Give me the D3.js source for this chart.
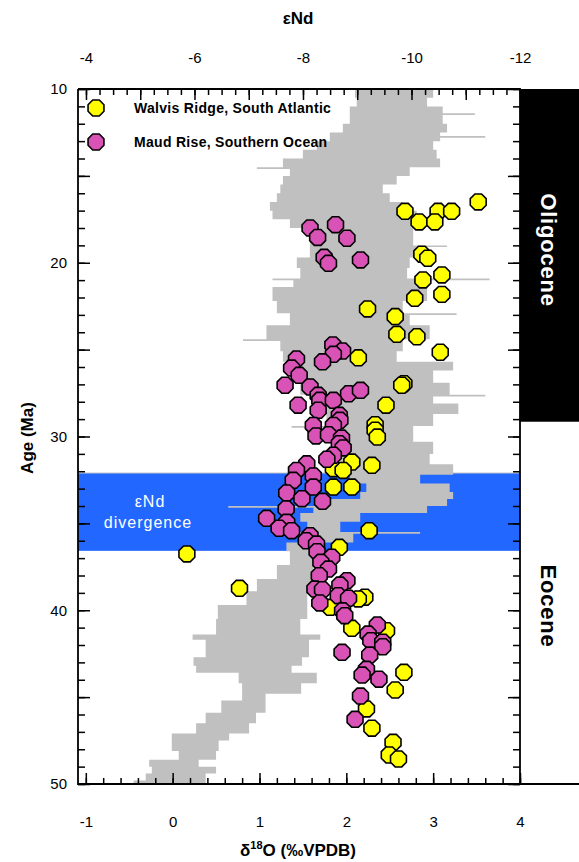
<!DOCTYPE html>
<html>
<head>
<meta charset="utf-8">
<script src="https://cdn.jsdelivr.net/npm/d3@7"></script>
<style>
  body { margin: 0; background: #fff; }
  text { font-family: "Liberation Sans", Arial, sans-serif; }
</style>
</head>
<body>
<script>
// Walvis Ridge (South Atlantic) - age (Ma) and eNd
var walvisAge = [16.50, 17.04, 17.04, 17.04, 17.65, 17.65, 19.51, 19.74, 20.70, 20.99, 22.05, 21.82,
  22.66, 23.10, 24.12, 24.26, 25.15, 25.47, 26.96, 27.05, 28.20, 29.32, 29.64, 30.03, 31.47, 31.66,
  31.85, 31.95, 32.91, 32.91, 35.42, 36.38, 36.76, 38.74, 39.25, 39.35, 39.83, 41.04, 41.18, 43.57,
  44.59, 45.68, 46.79, 47.60, 48.33, 48.56];
var walvisNd = [-11.23, -9.88, -10.49, -10.74, -10.14, -10.43, -10.19, -10.30, -10.56, -10.21, -10.06, -10.56,
  -9.19, -9.70, -9.73, -10.10, -10.53, -9.02, -9.86, -9.82, -9.53, -9.33, -9.33, -9.37, -8.90, -9.27,
  -8.56, -8.74, -8.56, -8.90, -9.22, -8.67, -5.86, -6.83, -9.14, -9.02, -8.50, -8.90, -9.54, -9.86,
  -9.70, -9.17, -9.27, -9.66, -9.59, -9.76];

// Maud Rise (Southern Ocean)
var maudAge = [18.00, 17.81, 18.54, 18.59, 19.69, 20.03, 19.84, 24.73, 25.08, 25.27, 25.54, 25.70,
  26.06, 26.48, 27.05, 27.15, 27.54, 27.34, 27.63, 27.92, 27.92, 28.20, 28.49, 28.78, 29.07, 29.36,
  29.36, 29.97, 29.90, 30.09, 30.41, 30.66, 31.08, 31.31, 31.57, 31.95, 32.27, 32.52, 32.91, 33.25,
  33.58, 33.73, 34.17, 34.71, 34.94, 35.28, 35.42, 35.71, 36.00, 36.19, 36.63, 36.95, 37.24, 37.63,
  38.01, 38.30, 38.55, 38.78, 38.82, 39.16, 39.31, 39.58, 40.03, 40.31, 40.85, 41.37, 41.75, 41.84,
  42.10, 42.42, 42.58, 43.40, 43.73, 43.97, 44.94, 46.28];
var maudNd = [-8.13, -8.60, -8.27, -8.81, -8.39, -8.47, -9.06, -8.55, -8.73, -8.56, -7.88, -8.36,
  -7.79, -7.93, -7.67, -8.13, -8.84, -9.06, -8.28, -8.31, -8.56, -7.91, -8.28, -8.67, -8.68, -8.56,
  -8.19, -8.24, -8.47, -8.71, -8.67, -8.74, -8.56, -8.44, -8.07, -7.88, -8.19, -7.82, -8.19, -7.70,
  -7.98, -8.36, -7.69, -7.33, -7.70, -7.56, -7.79, -8.13, -8.06, -8.25, -8.26, -8.53, -8.33, -8.47,
  -8.30, -8.81, -8.68, -8.22, -8.36, -8.65, -8.84, -8.31, -8.73, -8.77, -9.37, -9.20, -9.25, -9.47,
  -9.47, -8.72, -9.23, -9.17, -9.09, -9.40, -9.06, -8.96];

// benthic d18O record, read as the left / right edge of the grey trace
var o18Age = [10.0, 10.5, 11.0, 11.4, 11.5, 12.0, 12.5, 12.7, 12.8, 13.0, 13.5, 14.0, 14.5, 14.6, 15.0,
  15.5, 16.0, 16.5, 17.0, 17.5, 18.0, 18.5, 19.0, 19.1, 19.7, 20.3, 20.9, 21.0, 21.4, 22.2, 22.9, 23.0,
  23.6, 24.4, 24.5, 25.1, 25.7, 26.2, 26.9, 27.6, 27.7, 28.1, 28.7, 29.4, 29.5, 30.3, 31.0, 31.6, 32.2,
  32.7, 33.2, 33.6, 34.0, 34.1, 34.4, 34.9, 35.5, 35.6, 36.1, 36.6, 37.4, 38.2, 38.9, 39.7, 40.5, 41.4,
  41.7, 42.7, 43.2, 43.6, 44.2, 44.8, 45.2, 45.9, 46.5, 47.1, 47.5, 48.1, 48.6, 49.0, 49.4, 49.8, 50.0];
var o18Lo = [2.10, 2.12, 2.04, 2.04, 2.04, 1.96, 1.81, 1.81, 1.81, 1.66, 1.50, 1.27, 0.97, 1.35, 1.27,
  1.24, 1.20, 1.12, 1.15, 1.35, 1.58, 1.58, 1.58, 1.58, 1.43, 1.47, 1.15, 1.39, 1.15, 1.20, 1.35, 1.35,
  1.08, 0.81, 1.24, 1.27, 1.35, 1.47, 1.47, 1.73, 1.73, 1.77, 1.77, 1.37, 1.81, 1.96, 1.93, 1.93, 2.04,
  2.23, 2.16, 1.66, 0.64, 1.62, 1.47, 1.55, 1.20, 1.50, 1.31, 1.35, 1.20, 0.97, 0.85, 0.52, 0.50, 0.23,
  0.38, 0.24, 0.27, 0.76, 0.80, 0.80, 0.56, 0.38, 0.27, -0.01, -0.01, 0.07, -0.27, -0.24, -0.31, -0.45, -0.60];
var o18Hi = [3.00, 2.93, 3.11, 3.48, 3.11, 3.16, 3.08, 3.60, 3.08, 3.00, 3.04, 3.08, 2.73, 2.73, 2.58,
  2.42, 2.50, 2.65, 2.81, 2.77, 2.77, 2.77, 3.16, 2.81, 2.73, 2.70, 3.65, 2.81, 2.93, 2.65, 3.27, 2.73,
  2.96, 2.65, 2.65, 2.58, 3.23, 3.00, 3.19, 3.60, 3.00, 3.29, 3.00, 2.77, 2.77, 3.00, 2.96, 3.23, 2.85,
  3.19, 3.23, 3.16, 2.93, 2.93, 2.16, 1.93, 2.85, 2.08, 1.62, 1.62, 1.62, 1.62, 1.55, 1.55, 1.47, 1.70,
  1.57, 1.49, 1.37, 1.66, 1.48, 1.07, 1.07, 0.96, 0.88, 0.65, 0.53, 0.50, 0.30, 0.50, 0.38, 0.38, 0.54];

var divergence = [32.1, 36.58];        // eNd divergence interval (Ma)
var oligoceneEnd = 29.15;               // boundary drawn in the epoch column
var o18Ticks = [-1, 0, 1, 2, 3, 4];
var ndTicks = [-4, -6, -8, -10, -12];
var ageTicks = [10, 20, 30, 40, 50];

var width = 579, height = 862;
var pLeft = 78, pRight = 520, pTop = 89, pBottom = 784;

var svg = d3.select('body').append('svg')
  .attr('width', width)
  .attr('height', height);

var x = d3.scaleLinear().domain([-1.09, 4]).range([pLeft, pRight]);
var xNd = d3.scaleLinear().domain([-3.853, -12]).range([pLeft, pRight]);
var y = d3.scaleLinear().domain([10, 50]).range([pTop, pBottom]);

// blue band
svg.append('rect')
  .attr('x', pLeft).attr('y', y(divergence[0]))
  .attr('width', pRight - pLeft).attr('height', y(divergence[1]) - y(divergence[0]))
  .attr('fill', '#2267ff');
svg.append('line')
  .attr('x1', pLeft).attr('x2', pRight)
  .attr('y1', y(divergence[0])).attr('y2', y(divergence[0]))
  .attr('stroke', '#c8c8c8').attr('stroke-width', 1);

// grey d18O trace
var o18 = o18Age.map(function(a, i) { return [a, o18Lo[i], o18Hi[i]]; });
var area = d3.area()
  .y(function(d) { return y(d[0]); })
  .x0(function(d) { return x(d[1]); })
  .x1(function(d) { return x(d[2]); })
  .curve(d3.curveStepBefore);
svg.append('path')
  .datum(o18)
  .attr('d', area)
  .attr('fill', '#c0c0c0');

svg.append('text')
  .attr('x', 150).attr('y', 507)
  .attr('text-anchor', 'middle')
  .attr('fill', '#fff')
  .style('font-size', '16px').style('letter-spacing', '1px')
  .text('εNd');
svg.append('text')
  .attr('x', 148).attr('y', 528)
  .attr('text-anchor', 'middle')
  .attr('fill', '#fff')
  .style('font-size', '16px').style('letter-spacing', '1px')
  .text('divergence');

// epoch column
svg.append('rect')
  .attr('x', pRight).attr('y', pTop)
  .attr('width', width - pRight).attr('height', y(oligoceneEnd) - pTop)
  .attr('fill', '#000');
svg.append('text')
  .attr('transform', 'translate(541,250) rotate(90)')
  .attr('text-anchor', 'middle')
  .attr('fill', '#fff')
  .style('font-size', '22px').style('font-weight', 'bold').style('letter-spacing', '0.8px')
  .text('Oligocene');
svg.append('text')
  .attr('transform', 'translate(541,606) rotate(90)')
  .attr('text-anchor', 'middle')
  .attr('fill', '#000')
  .style('font-size', '22px').style('font-weight', 'bold').style('letter-spacing', '0.8px')
  .text('Eocene');

// octagon marker
function octagon(r) {
  var pts = d3.range(8).map(function(k) {
    var t = Math.PI / 8 + k * Math.PI / 4;
    return [r * Math.cos(t), r * Math.sin(t)];
  });
  return 'M' + pts.join('L') + 'Z';
}

function drawSeries(ages, nds, color) {
  svg.append('g').selectAll('path')
    .data(ages.map(function(a, i) { return [a, nds[i]]; }))
    .enter().append('path')
    .attr('d', octagon(8.6))
    .attr('transform', function(d) { return 'translate(' + xNd(d[1]) + ',' + y(d[0]) + ')'; })
    .attr('fill', color)
    .attr('stroke', '#000')
    .attr('stroke-width', 1.6);
}
drawSeries(walvisAge, walvisNd, '#ffff00');
drawSeries(maudAge, maudNd, '#d952b5');

// axes
function styleAxis(g) {
  g.select('.domain').remove();
  g.selectAll('line').attr('stroke', '#000').attr('stroke-width', 1.5);
  g.selectAll('text').style('font-size', '15px').attr('fill', '#000')
    .style('font-family', '"Liberation Sans", Arial, sans-serif');
}

svg.append('g').attr('transform', 'translate(' + pLeft + ',0)')
  .call(d3.axisLeft(y).tickValues(d3.range(10, 51, 1)).tickSize(-7).tickFormat(''))
  .call(styleAxis);
svg.append('g').attr('transform', 'translate(' + pLeft + ',0)')
  .call(d3.axisLeft(y).tickValues(d3.range(10, 51, 5)).tickSize(-12).tickPadding(11)
    .tickFormat(function(d) { return ageTicks.indexOf(d) >= 0 ? d : ''; }))
  .call(styleAxis);
svg.append('g').attr('transform', 'translate(' + pRight + ',0)')
  .call(d3.axisRight(y).tickValues(d3.range(10, 51, 1)).tickSize(-7).tickFormat(''))
  .call(styleAxis);
svg.append('g').attr('transform', 'translate(' + pRight + ',0)')
  .call(d3.axisRight(y).tickValues(d3.range(10, 51, 5)).tickSize(-12).tickFormat(''))
  .call(styleAxis);

svg.append('g').attr('transform', 'translate(0,' + pBottom + ')')
  .call(d3.axisBottom(x).tickValues(d3.range(-1, 4.01, 0.2)).tickSize(-6).tickFormat(''))
  .call(styleAxis);
svg.append('g').attr('transform', 'translate(0,' + pBottom + ')')
  .call(d3.axisBottom(x).tickValues(o18Ticks).tickSize(-11).tickPadding(32)
    .tickFormat(function(d) { return d; }))
  .call(styleAxis);

svg.append('g').attr('transform', 'translate(0,' + pTop + ')')
  .call(d3.axisTop(xNd).tickValues(d3.range(-4, -12.01, -0.25)).tickSize(-6).tickFormat(''))
  .call(styleAxis);
svg.append('g').attr('transform', 'translate(0,' + pTop + ')')
  .call(d3.axisTop(xNd).tickValues(d3.range(-4, -12.01, -1)).tickSize(-11).tickPadding(26)
    .tickFormat(function(d) { return ndTicks.indexOf(d) >= 0 ? d : ''; }))
  .call(styleAxis);

// frame
svg.append('path')
  .attr('d', 'M' + pLeft + ',' + pTop + 'V' + pBottom + 'H' + width + 'M' + pLeft + ',' + pTop + 'H' + pRight + 'V' + pBottom)
  .attr('fill', 'none').attr('stroke', '#000').attr('stroke-width', 1.8);

// legend
var legend = [['Walvis Ridge, South Atlantic', '#ffff00', 108], ['Maud Rise, Southern Ocean', '#d952b5', 142]];
legend.forEach(function(l) {
  svg.append('path').attr('d', octagon(8.6))
    .attr('transform', 'translate(96,' + l[2] + ')')
    .attr('fill', l[1]).attr('stroke', '#000').attr('stroke-width', 1.6);
  svg.append('text').attr('x', 134).attr('y', l[2] + 5)
    .style('font-size', '14px').style('font-weight', 'bold').style('letter-spacing', '0.3px')
    .text(l[0]);
});

// titles
svg.append('text').attr('x', 298).attr('y', 24).attr('text-anchor', 'middle')
  .style('font-size', '17px').style('font-weight', 'bold').text('εNd');
svg.append('text').attr('transform', 'translate(33,438) rotate(-90)').attr('text-anchor', 'middle')
  .style('font-size', '17px').style('font-weight', 'bold').text('Age (Ma)');
var xt = svg.append('text').attr('x', 298).attr('y', 856).attr('text-anchor', 'middle')
  .style('font-size', '17px').style('font-weight', 'bold');
xt.append('tspan').text('δ');
xt.append('tspan').attr('dy', -7).style('font-size', '11px').text('18');
xt.append('tspan').attr('dy', 7).text('O (‰VPDB)');
</script>
</body>
</html>
